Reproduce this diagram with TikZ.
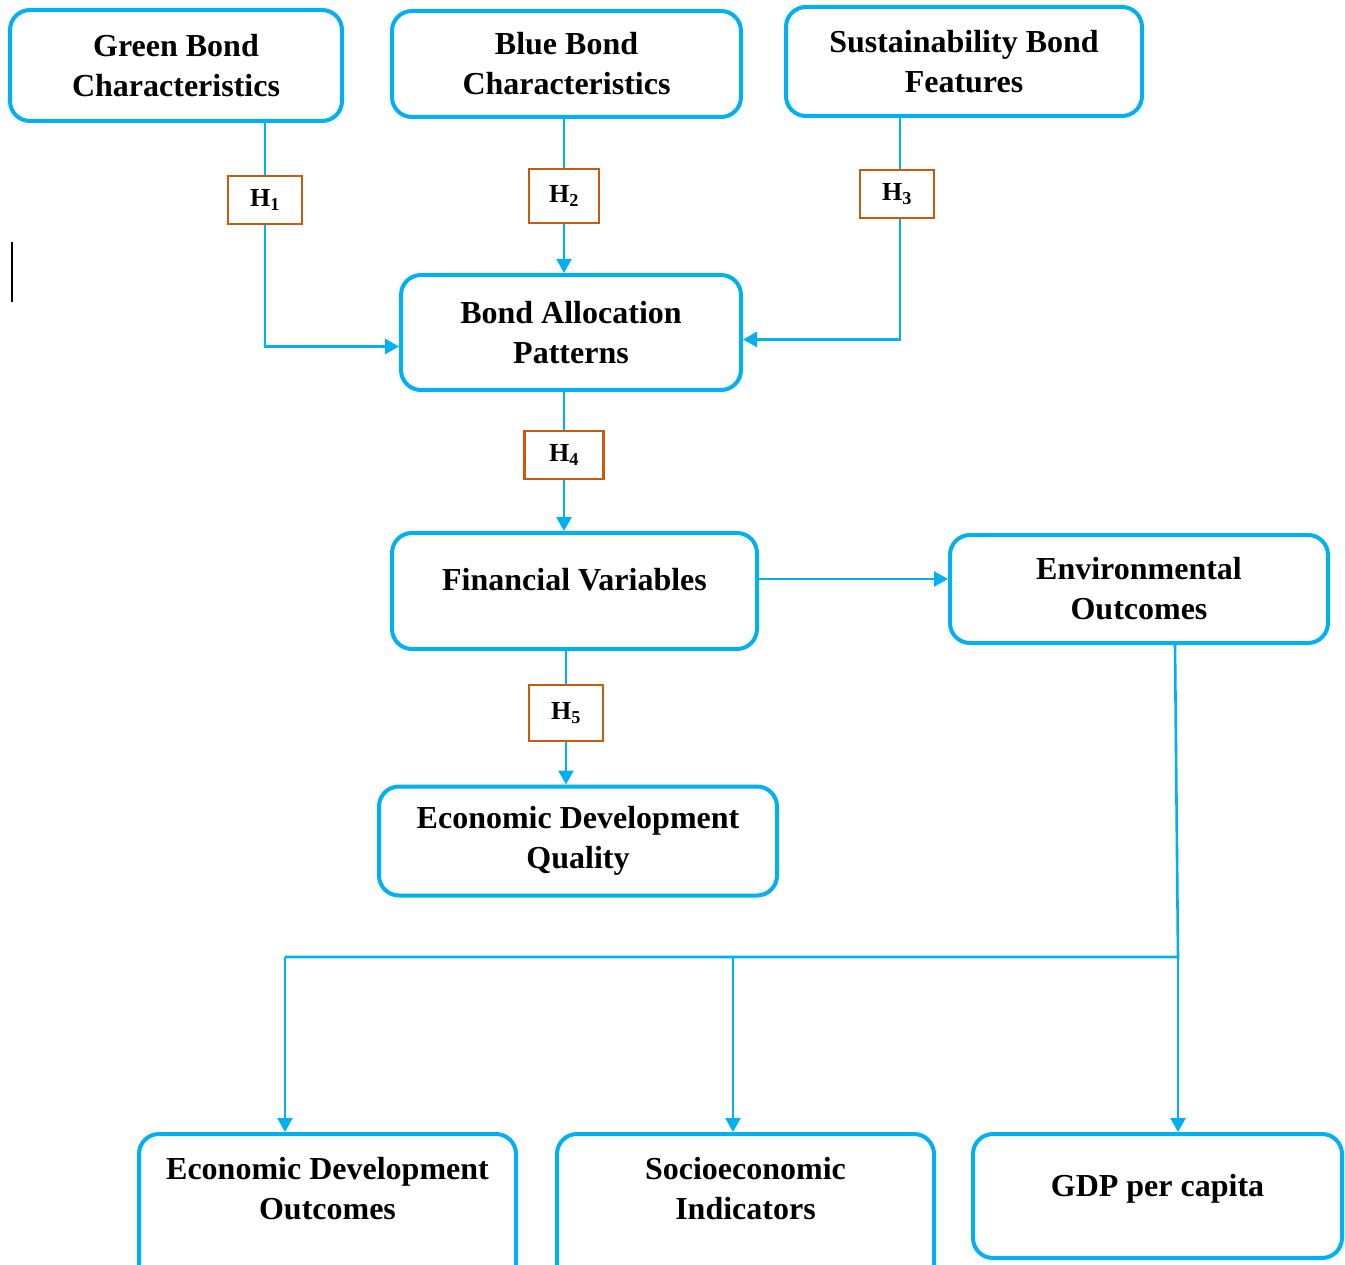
\documentclass[tikz,border=0pt]{standalone}
\usepackage{fontspec}
\setmainfont{Liberation Serif}
\usepackage{xcolor}
\usetikzlibrary{arrows.meta,positioning,shapes}

\definecolor{bondblue}{HTML}{00B0F0}
\definecolor{hbrown}{HTML}{C55A11}

\begin{document}
\begin{tikzpicture}[x=1pt,y=-1pt,>={Triangle[length=14pt,width=15pt]}]
            \tikzstyle{block} = [draw=bondblue, line width=4pt, rectangle, rounded corners=20pt, align=center, inner xsep=10pt,
                                 font=\fontsize{32}{40}\selectfont\bfseries]
            \tikzstyle{hyp} = [draw=hbrown, line width=2.8pt, rectangle, fill=white, minimum height=48pt,
                               font=\fontsize{26}{30}\selectfont\bfseries]
            \tikzstyle{link} = [draw=bondblue, line width=2.6pt]

            \clip (0,0) rectangle (1345,1265);

            % sources
            \node [block, minimum width=332, minimum height=111] (green) at (176,65.5) {Green Bond\\Characteristics};
            \node [block, minimum width=349, minimum height=106] (blue) at (566.5,64) {Blue Bond\\Characteristics};
            \node [block, minimum width=356, minimum height=109] (sust) at (964,61.5) {Sustainability Bond\\Features};
            \node [block, minimum width=340, minimum height=115] (alloc) at (571,332.5) {Bond Allocation\\Patterns};
            \node [block, minimum width=365, minimum height=116, text depth=24pt] (fin) at (574.5,591) {Financial Variables};
            \node [block, minimum width=378, minimum height=108] (env) at (1139,589) {Environmental\\Outcomes};
            \node [block, minimum width=398, minimum height=109] (edq) at (578,841) {Economic Development\\Quality};

            % outcomes (cut off at the bottom)
            \node [block, anchor=north, minimum width=377, minimum height=160] (edo) at (327.5,1132) {Economic Development\\Outcomes\\[12pt]};
            \node [block, anchor=north, minimum width=377, minimum height=160] (socio) at (745.5,1132) {Socioeconomic\\Indicators\\[12pt]};
            \node [block, anchor=north, minimum width=369, minimum height=124, text depth=22pt] (gdp) at (1157.5,1132) {GDP per capita};

            % hypotheses
            \node [hyp, minimum width=74] (h1) at (265,200) {H\textsubscript{1}};
            \node [hyp, minimum width=70, minimum height=54] (h2) at (564,196) {H\textsubscript{2}};
            \node [hyp, minimum width=74] (h3) at (897,194) {H\textsubscript{3}};
            \node [hyp, minimum width=79] (h4) at (564,455) {H\textsubscript{4}};
            \node [hyp, minimum width=74, minimum height=56] (h5) at (566,713) {H\textsubscript{5}};

            \coordinate (fe) at ([yshift=12pt]fin.east);
            \coordinate (split) at (1178,957);
            \coordinate (lft) at (285,957);
            \coordinate (mid) at (733,957);

            \draw [link] (h1.north) -- (h1.north |- green.south);
            \draw [link, ->] (h1.south) |- ([yshift=-14pt]alloc.west);
            \draw [link] (h2.north) -- (h2.north |- blue.south);
            \draw [link, ->] (h2.south) -- (h2.south |- alloc.north);
            \draw [link] ([xshift=3pt]h3.north) -- ([xshift=3pt]h3.north |- sust.south);
            \draw [link, ->] ([xshift=3pt]h3.south) |- ([yshift=-7pt]alloc.east);
            \draw [link] (h4.north) -- (h4.north |- alloc.south);
            \draw [link, ->] (h4.south) -- (h4.south |- fin.north);
            \draw [link, ->] (fe) -- (fe -| env.west);
            \draw [link] (h5.north) -- (h5.north |- fin.south);
            \draw [link, ->] (h5.south) -- (h5.south |- edq.north);
            \draw [link] ([xshift=36pt]env.south) -- (split) -- (lft);
            \draw [link, ->] (split) -- (split |- gdp.north);
            \draw [link, ->] (lft) -- (lft |- edo.north);
            \draw [link, ->] (mid) -- (mid |- socio.north);

            \draw [line width=2pt] (12,242) -- (12,302);
\end{tikzpicture}
\end{document}
